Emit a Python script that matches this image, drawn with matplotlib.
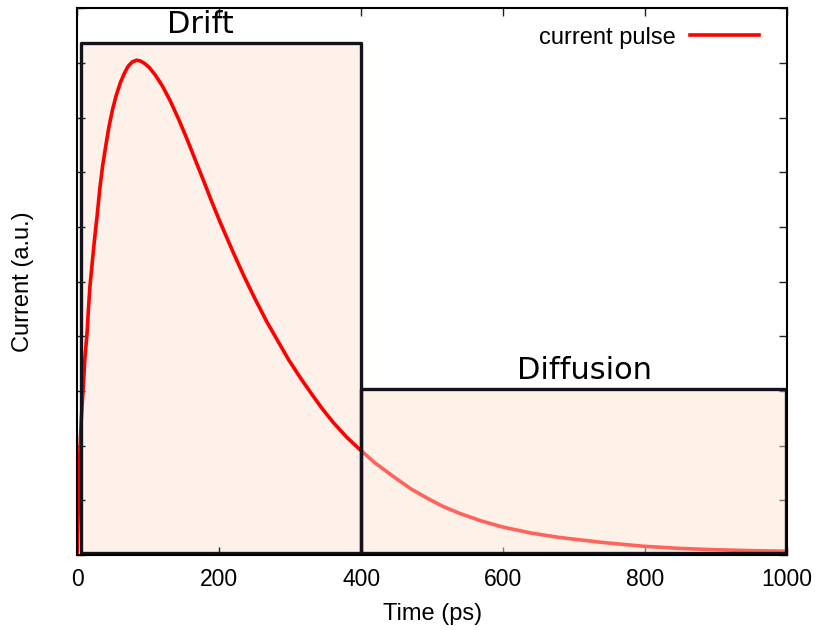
import matplotlib.pyplot as plt
from matplotlib.patches import Rectangle

# current pulse (time in ps, current in a.u.)
time_ps = [0, 2, 4, 6, 9, 11, 14, 16, 18, 21, 23, 26, 28, 32, 36, 40, 45, 50, 55, 61,
           67, 72, 78, 84, 90, 96, 102, 110, 120, 131, 143, 155, 166, 178, 190, 201,
           220, 235, 250, 267, 282, 298, 314, 330, 345, 361, 380, 399, 420, 446, 470,
           493, 515, 539, 570, 600, 640, 680, 740, 798, 850, 892, 950, 1000]
current = [0.0, 0.10, 0.19, 0.25, 0.314, 0.36, 0.405, 0.45, 0.49, 0.53, 0.557, 0.595,
           0.617, 0.670, 0.712, 0.745, 0.784, 0.815, 0.840, 0.864, 0.882, 0.894, 0.902,
           0.905, 0.903, 0.898, 0.891, 0.878, 0.858, 0.831, 0.797, 0.760, 0.724, 0.685,
           0.645, 0.610, 0.553, 0.510, 0.470, 0.427, 0.393, 0.357, 0.325, 0.295, 0.268,
           0.242, 0.215, 0.192, 0.168, 0.143, 0.121, 0.104, 0.089, 0.076, 0.062, 0.051,
           0.040, 0.032, 0.023, 0.016, 0.012, 0.010, 0.008, 0.007]

# regions: (label, start, end, height, label x, label baseline)
regions = [("Drift", 5, 400, 0.937, 173, 0.955),
           ("Diffusion", 400, 998, 0.303, 715, 0.321)]
x_ticks = [0, 200, 400, 600, 800, 1000]
y_ticks = [i / 10 for i in range(11)]

edge = '#14121c'
fig = plt.figure(figsize=(8.2, 6.3), dpi=100)
ax = fig.add_axes([0.094, 0.119, 0.866, 0.868])

# drift box sits under the curve
lab, x0, x1, h, _, _ = regions[0]
ax.add_patch(Rectangle((x0, 0.003), x1 - x0, h - 0.003, facecolor='#fef1e9',
                       edgecolor='none', zorder=1))
ax.plot(time_ps, current, color='#ff0000', lw=2.6, label='current pulse', zorder=2,
        solid_joinstyle='round')

# diffusion box is drawn over the curve, half transparent
lab2, x2, x3, h2, _, _ = regions[1]
ax.add_patch(Rectangle((x2, 0.003), x3 - x2, h2 - 0.003, facecolor=(253/255, 224/255, 206/255),
                       alpha=0.45, edgecolor='none', zorder=3))

for lab_, a, b, hh, tx, ty in regions:
    ax.add_patch(Rectangle((a, 0.003), b - a, hh - 0.003, facecolor='none', edgecolor=edge,
                           lw=2.4, joinstyle='round', zorder=4))
    ax.text(tx, ty, lab_, ha='center', va='baseline', fontsize=22,
            family='DejaVu Sans', zorder=5)

ax.set_xlim(0, 1000)
ax.set_ylim(0, 1)
ax.set_xticks(x_ticks)
ax.set_yticks(y_ticks)
ax.set_yticklabels([])
ax.tick_params(direction='in', length=6, width=1, top=True, right=True, colors='#222222',
               labelsize=16.5, pad=9)
for lbl in ax.get_xticklabels():
    lbl.set_family('Liberation Sans')
    lbl.set_color('black')
for s in ax.spines.values():
    s.set_linewidth(1.5)
    s.set_zorder(6)

ax.set_xlabel('Time (ps)', fontsize=17, family='Liberation Sans', labelpad=9)
ax.set_ylabel('Current (a.u.)', fontsize=17, family='Liberation Sans', labelpad=22)

ax.legend(loc='upper right', frameon=False, markerfirst=False, handlelength=2.9,
          handletextpad=0.6, prop={'family': 'Liberation Sans', 'size': 17},
          bbox_to_anchor=(0.99, 1.005))

fig.savefig('out.png', dpi=100)
